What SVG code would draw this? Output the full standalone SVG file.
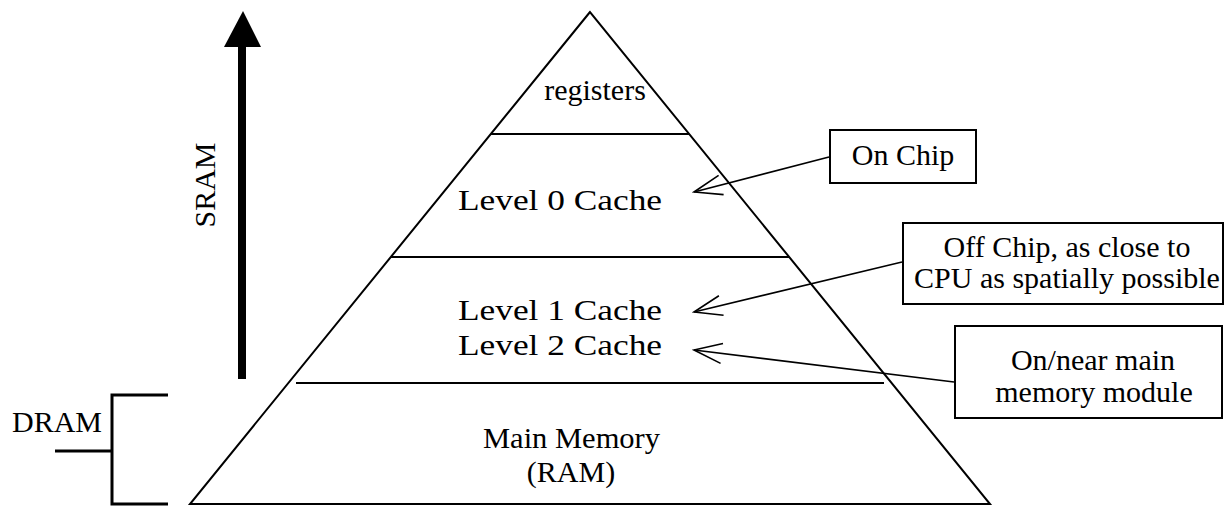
<svg xmlns="http://www.w3.org/2000/svg" width="1225" height="506" viewBox="0 0 1225 506">
  <style>
    .t { font-family: "Liberation Serif", "Times New Roman", serif; font-size: 30px; fill: #000; }
    .c { text-anchor: middle; }
    .ln { stroke: #000; stroke-width: 2; fill: none; }
    .box { stroke: #000; stroke-width: 2; fill: #fff; }
    .conn { stroke: #000; stroke-width: 1.6; fill: none; marker-end: url(#open); }
  </style>
  <defs>
    <marker id="open" markerUnits="userSpaceOnUse" viewBox="-30 -12 32 24" refX="0" refY="0" markerWidth="32" markerHeight="24" orient="auto">
      <path d="M-28,-10 L0,0 L-28,10" fill="none" stroke="#000" stroke-width="1.6"/>
    </marker>
  </defs>
  <rect width="1225" height="506" fill="#fff"/>

  <g id="pyramid">
    <polygon class="ln" points="590,12 190,504 990,504"/>
    <line class="ln" x1="491" y1="134" x2="689" y2="134"/>
    <line class="ln" x1="391" y1="257" x2="789" y2="257"/>
    <line class="ln" x1="296" y1="383" x2="884" y2="383"/>
  </g>

  <g id="registers"><text class="t c" x="595" y="100">registers</text></g>
  <g id="level0"><text class="t" x="458" y="210" textLength="204" lengthAdjust="spacingAndGlyphs">Level 0 Cache</text></g>
  <g id="level12">
    <text class="t" x="458" y="320" textLength="204" lengthAdjust="spacingAndGlyphs">Level 1 Cache</text>
    <text class="t" x="458" y="355" textLength="204" lengthAdjust="spacingAndGlyphs">Level 2 Cache</text>
  </g>
  <g id="mainmem">
    <text class="t" x="483" y="448" textLength="177" lengthAdjust="spacingAndGlyphs">Main Memory</text>
    <text class="t c" x="571" y="482">(RAM)</text>
  </g>

  <g id="sram">
    <rect x="238" y="45" width="8" height="334" fill="#000"/>
    <polygon points="243,11 224,47 261,47" fill="#000"/>
    <text class="t c" transform="translate(215,185) rotate(-90)" x="0" y="0">SRAM</text>
  </g>

  <g id="dram">
    <path d="M168,395 H112 V504 H168 M55,451 H112" stroke="#000" stroke-width="3" fill="none"/>
    <text class="t" x="12" y="432">DRAM</text>
  </g>

  <g id="onchip">
    <rect class="box" x="830" y="130" width="146" height="53"/>
    <text class="t c" x="903" y="165">On Chip</text>
  </g>
  <g id="offchip">
    <rect class="box" x="903" y="223" width="320" height="81"/>
    <text class="t c" x="1067" y="257">Off Chip, as close to</text>
    <text class="t c" x="1067" y="288">CPU as spatially possible</text>
  </g>
  <g id="nearmem">
    <rect class="box" x="955" y="326" width="267" height="92"/>
    <text class="t c" x="1093" y="370">On/near main</text>
    <text class="t c" x="1094" y="402">memory module</text>
  </g>

  <g id="connectors">
    <line class="conn" x1="829" y1="157" x2="694" y2="192"/>
    <line class="conn" x1="902" y1="262" x2="694" y2="312"/>
    <line class="conn" x1="954" y1="382" x2="694" y2="350"/>
  </g>
</svg>
